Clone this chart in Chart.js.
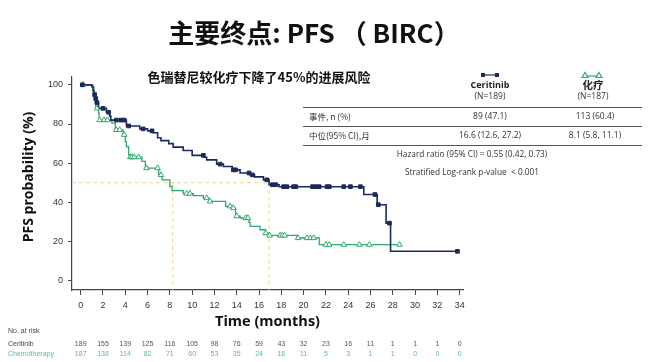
<!DOCTYPE html>
<html>
<head>
<meta charset="utf-8">
<script src="https://cdn.jsdelivr.net/npm/chart.js@4"></script>
<style>
  body { margin: 0; background: #fff; }
  canvas { display: block; }
</style>
</head>
<body>
<canvas id="km" width="663" height="362"></canvas>
<script>
// KM curves (months, % PFS)
const ceritinibTime = [0, 1.0, 1.1, 1.2, 1.3, 1.4, 1.6, 2.3, 2.6, 2.7, 4.1, 5.3, 6.0, 6.5, 6.9, 7.2, 7.9, 8.3, 9.2, 10.0, 11.1, 11.3, 12.2, 12.8, 13.6, 14.3, 15.2, 15.6, 16.4, 16.9, 17.8, 25.4, 26.6, 27.4, 27.8, 33.8];
const ceritinibSurv = [100, 99, 97, 95, 93, 91, 88, 86, 84, 82, 79, 77.5, 76.5, 75.5, 73, 71.5, 70, 68.2, 66.5, 64, 63, 61.7, 59.5, 58.3, 56.6, 55, 54, 53, 51.5, 49, 48, 44, 38.8, 29.4, 15, 15];
const chemoTime = [0, 1.1, 1.2, 1.35, 1.6, 1.65, 2.8, 3.1, 3.8, 4.0, 4.1, 4.3, 4.4, 5.5, 5.8, 7.0, 7.3, 8.0, 8.2, 9.2, 10.1, 11.0, 11.5, 13.0, 13.6, 13.9, 14.3, 15.1, 15.2, 16.1, 16.6, 16.9, 19.4, 21.4, 28.6];
const chemoSurv = [100, 98.7, 95.7, 88, 85.5, 82, 80.4, 77, 74.5, 71, 68.5, 64.3, 63.1, 60.9, 57.5, 54, 51.5, 48.1, 46, 44.5, 43.4, 42.2, 40.5, 38, 37.1, 33, 32, 29.8, 27.7, 26, 24.3, 23.1, 21.8, 18.4, 18.4];

// censoring times (the marks sit on the curve)
const ceritinibCensor = [0.15, 1.25, 1.35, 1.45, 2.0, 2.5, 3.2, 3.6, 3.9, 4.3, 5.6, 6.4, 11.0, 12.5, 13.7, 13.9, 15.1, 15.4, 16.7, 17.2, 17.5, 18.2, 18.5, 19.1, 19.3, 20.8, 21.1, 21.4, 22.1, 22.3, 23.6, 24.2, 25.1, 26.4, 26.7, 27.7, 33.8];
const chemoCensor = [0.2, 1.45, 1.7, 2.1, 2.4, 3.2, 3.5, 3.9, 4.45, 4.6, 4.8, 5.2, 5.9, 6.9, 7.2, 9.5, 9.8, 11.3, 11.6, 13.4, 13.7, 14.0, 14.8, 15.0, 16.6, 16.95, 17.9, 18.1, 18.3, 19.5, 20.3, 20.6, 20.9, 22.0, 22.3, 23.6, 25.0, 25.9, 28.6];

// median lines
const medianLevel = 50;
const medianMonths = [16.9, 8.26];

const xTicks = [0, 2, 4, 6, 8, 10, 12, 14, 16, 18, 20, 22, 24, 26, 28, 30, 32, 34];
const yTicks = [0, 20, 40, 60, 80, 100];
const ceritinibRisk = [189, 155, 139, 125, 116, 105, 98, 76, 59, 43, 32, 23, 16, 11, 1, 1, 1, 0];
const chemoRisk = [187, 138, 114, 82, 71, 60, 53, 35, 24, 16, 11, 5, 3, 1, 1, 0, 0, 0];

const armNames = ['Ceritinib', '化疗'];
const armN = ['(N=189)', '(N=187)'];
const tableRows = [
    ['事件, n (%)', '89 (47.1)', '113 (60.4)'],
    ['中位(95% CI),月', '16.6 (12.6, 27.2)', '8.1 (5.8, 11.1)']
];
const hrText = 'Hazard ratio (95% CI) = 0.55 (0.42, 0.73)';
const pText = 'Stratified Log-rank p-value  < 0.001';

const NAVY = '#1c2a5c', GREEN = '#2fa96c', DASH = '#f1d68c';
const X_MIN = -0.78, X_MAX = 34.3, Y_MIN = -4.75, Y_MAX = 104;

function kmAt(times, surv, t) {
    let v = surv[0];
    for (let i = 0; i < times.length; i++) if (times[i] <= t) v = surv[i];
    return v;
}
const pts = (ts, ss) => ts.map((t, i) => ({x: t, y: ss[i]}));
const censorPts = (cs, ts, ss) => cs.map(t => ({x: t, y: kmAt(ts, ss, t)}));

const ds = [
    {data: censorPts(ceritinibCensor, ceritinibTime, ceritinibSurv), showLine: false,
     pointStyle: 'rect', pointRadius: 2.6, backgroundColor: NAVY, borderColor: NAVY, borderWidth: 1},
    {data: censorPts(chemoCensor, chemoTime, chemoSurv), showLine: false,
     pointStyle: 'triangle', pointRadius: 3.2, backgroundColor: '#fff', borderColor: GREEN, borderWidth: 1},
    {data: pts(ceritinibTime, ceritinibSurv), stepped: 'before', borderColor: NAVY, borderWidth: 1.6, pointRadius: 0},
    {data: pts(chemoTime, chemoSurv), stepped: 'before', borderColor: GREEN, borderWidth: 1.3, pointRadius: 0},
    {data: [{x: X_MIN, y: medianLevel}, {x: medianMonths[0], y: medianLevel}],
     borderColor: DASH, borderWidth: 1, borderDash: [4, 3], pointRadius: 0}
];
medianMonths.forEach(m => ds.push({data: [{x: m, y: medianLevel}, {x: m, y: Y_MIN}],
    borderColor: DASH, borderWidth: 1, borderDash: [4, 3], pointRadius: 0}));

function txt(ctx, s, x, y, font, color, align) {
    ctx.font = font;
    ctx.fillStyle = color;
    ctx.textAlign = align || 'center';
    ctx.textBaseline = 'middle';
    ctx.fillText(s, x, y);
}

const extras = {
    id: 'extras',
    afterDraw(chart) {
        const ctx = chart.ctx, xs = chart.scales.x, ya = chart.chartArea;
        ctx.save();
        txt(ctx, '主要终点: PFS （ BIRC）', 314, 33, 'bold 26px "Noto Sans CJK SC"', '#111');
        txt(ctx, '色瑞替尼较化疗下降了45%的进展风险', 259, 77, 'bold 13px "Noto Sans CJK SC"', '#111');

        // axis titles
        txt(ctx, 'Time (months)', (ya.left + ya.right) / 2, 322, 'bold 14.5px "Open Sans"', '#111');
        ctx.save();
        ctx.translate(29, 177);
        ctx.rotate(-Math.PI / 2);
        txt(ctx, 'PFS probability (%)', 0, 0, 'bold 14px "Open Sans"', '#111');
        ctx.restore();

        // legend heads of the table
        const cols = [490, 593];
        ctx.lineWidth = 1.2;
        ctx.strokeStyle = NAVY;
        ctx.beginPath(); ctx.moveTo(483, 75); ctx.lineTo(497, 75); ctx.stroke();
        ctx.fillStyle = NAVY;
        ctx.fillRect(481, 73, 4, 4); ctx.fillRect(495, 73, 4, 4);
        ctx.strokeStyle = GREEN;
        ctx.beginPath(); ctx.moveTo(585, 76); ctx.lineTo(599, 76); ctx.stroke();
        [585, 599].forEach(cx => {
            ctx.beginPath(); ctx.moveTo(cx, 72.5); ctx.lineTo(cx + 3, 77.5); ctx.lineTo(cx - 3, 77.5); ctx.closePath();
            ctx.fillStyle = '#fff'; ctx.fill(); ctx.stroke();
        });
        txt(ctx, armNames[0], cols[0], 85.5, 'bold 9px "Open Sans"', '#222');
        txt(ctx, armNames[1], cols[1], 85.5, 'bold 10.5px "Noto Sans CJK SC"', '#222');
        armN.forEach((n, i) => txt(ctx, n, cols[i], 96.5, '8.5px "Open Sans"', '#333'));

        ctx.strokeStyle = '#555';
        ctx.lineWidth = 1;
        [107, 126, 145].forEach(y => {
            ctx.beginPath(); ctx.moveTo(303, y + 0.5); ctx.lineTo(642, y + 0.5); ctx.stroke();
        });
        tableRows.forEach((r, i) => {
            const y = 117 + i * 19;
            txt(ctx, r[0], 309, y, '8.5px "Noto Sans CJK SC"', '#333', 'left');
            txt(ctx, r[1], cols[0], y, '8.5px "Open Sans"', '#333');
            txt(ctx, r[2], cols[1] + 2, y, '8.5px "Open Sans"', '#333');
        });
        txt(ctx, hrText, 472, 154.5, '8.3px "Open Sans"', '#333');
        txt(ctx, pText, 472, 173, '8.3px "Open Sans"', '#333');

        // number at risk
        txt(ctx, 'No. at risk', 8, 331, '7px "Liberation Sans"', '#444', 'left');
        txt(ctx, 'Ceritinib', 8, 344, '7px "Liberation Sans"', '#444', 'left');
        txt(ctx, 'Chemotherapy', 8, 354, '7px "Liberation Sans"', '#5cc08e', 'left');
        xTicks.forEach((t, i) => {
            const px = xs.getPixelForValue(t);
            txt(ctx, String(ceritinibRisk[i]), px, 344, '7px "Liberation Sans"', '#555');
            txt(ctx, String(chemoRisk[i]), px, 354, '7px "Liberation Sans"', '#5cc08e');
        });
        ctx.restore();
    }
};

new Chart(document.getElementById('km'), {
    type: 'line',
    data: {datasets: ds},
    plugins: [extras],
    options: {
        responsive: false,
        animation: false,
        devicePixelRatio: 1,
        layout: {padding: {left: 0, top: 77, right: 200, bottom: 42}},
        plugins: {legend: {display: false}, tooltip: {enabled: false}},
        scales: {
            x: {
                type: 'linear', min: X_MIN, max: X_MAX,
                afterBuildTicks: s => { s.ticks = xTicks.map(v => ({value: v})); },
                afterFit: s => { s.height = 30; },
                border: {display: true, color: '#444', width: 1.2},
                grid: {drawOnChartArea: false, drawTicks: true, tickLength: 5, color: '#444'},
                ticks: {padding: 5, color: '#333', autoSkip: false, font: {family: 'Liberation Sans', size: 9}, maxRotation: 0}
            },
            y: {
                type: 'linear', min: Y_MIN, max: Y_MAX,
                afterBuildTicks: s => { s.ticks = yTicks.map(v => ({value: v})); },
                afterFit: s => { s.width = 72; },
                border: {display: true, color: '#444', width: 1.2},
                grid: {drawOnChartArea: false, drawTicks: true, tickLength: 4, color: '#444'},
                ticks: {padding: 5, color: '#333', font: {family: 'Liberation Sans', size: 9}}
            }
        }
    }
});
</script>
</body>
</html>
